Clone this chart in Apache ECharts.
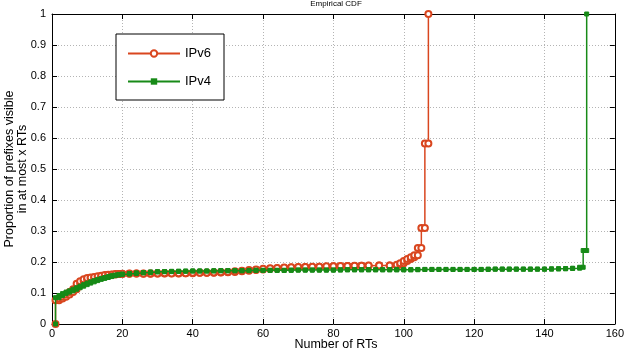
<!DOCTYPE html>
<html>
<head>
  <meta charset="UTF-8">
  <title>Empirical CDF</title>
  <script src="https://cdn.jsdelivr.net/npm/echarts@6/dist/echarts.min.js"></script>
  <style>
    html, body { margin: 0; padding: 0; background: #fff; }
    #main { width: 627px; height: 354px; }
  </style>
</head>
<body>
  <div id="main"></div>
  <script type="text/javascript">
    // number of RTs (x) and empirical CDF value
    var v6X = [1, 2, 3, 4, 5, 6, 7, 8, 9, 10, 11, 12, 13, 14, 15, 16, 17, 18, 19, 20,
      22, 24, 26, 28, 30, 32, 34, 36, 38, 40, 42, 44, 46, 48, 50, 52, 54, 56, 58, 60,
      62, 64, 66, 68, 70, 72, 74, 76, 78, 80, 82, 84, 86, 88, 90, 93, 96, 98, 99, 100,
      101, 102, 103, 104, 105, 106, 107];
    var v6F = [0.077, 0.082, 0.088, 0.095, 0.103, 0.112, 0.130, 0.138, 0.144, 0.148, 0.150, 0.152, 0.154, 0.156, 0.158, 0.159, 0.160, 0.161, 0.161, 0.162,
      0.163, 0.163, 0.162, 0.163, 0.163, 0.164, 0.163, 0.164, 0.164, 0.165, 0.165, 0.165, 0.166, 0.167, 0.168, 0.170, 0.172, 0.174, 0.176, 0.178,
      0.180, 0.181, 0.182, 0.183, 0.184, 0.184, 0.185, 0.185, 0.186, 0.186, 0.187, 0.187, 0.188, 0.188, 0.189, 0.189, 0.189, 0.191, 0.196, 0.203,
      0.210, 0.215, 0.222, 0.245, 0.310, 0.582, 1.0];

    var v4X = [1, 2, 3, 4, 5, 6, 7, 8, 9, 10, 11, 12, 13, 14, 15, 16, 17, 18, 19, 20,
      22, 24, 26, 28, 30, 32, 34, 36, 38, 40, 42, 44, 46, 48, 50, 52, 54, 56, 58, 60,
      62, 64, 66, 68, 70, 72, 74, 76, 78, 80, 82, 84, 86, 88, 90, 92, 94, 96, 98, 100,
      102, 104, 106, 108, 110, 112, 114, 116, 118, 120, 122, 124, 126, 128, 130, 132, 134, 136, 138, 140,
      142, 144, 146, 148, 150, 151, 152];
    var v4F = [0.085, 0.092, 0.098, 0.103, 0.107, 0.112, 0.117, 0.122, 0.127, 0.132, 0.136, 0.140, 0.144, 0.147, 0.150, 0.153, 0.156, 0.158, 0.160, 0.161,
      0.163, 0.165, 0.166, 0.168, 0.169, 0.169, 0.170, 0.170, 0.171, 0.171, 0.171, 0.171, 0.172, 0.172, 0.172, 0.172, 0.172, 0.173, 0.173, 0.173,
      0.173, 0.173, 0.173, 0.174, 0.174, 0.174, 0.174, 0.174, 0.174, 0.174, 0.175, 0.175, 0.175, 0.175, 0.175, 0.175, 0.175, 0.175, 0.175, 0.175,
      0.175, 0.176, 0.176, 0.176, 0.176, 0.176, 0.176, 0.176, 0.176, 0.176, 0.176, 0.177, 0.177, 0.177, 0.177, 0.177, 0.177, 0.177, 0.177, 0.177,
      0.178, 0.178, 0.179, 0.180, 0.183, 0.237, 1.0];

    var xTicks = { min: 0, max: 160, step: 20 };
    var yTicks = { min: 0, max: 1, step: 0.1 };

    // stairs: vertical jump at each x, markers on both corners (like matlab ecdf)
    function stairs(xs, fs) {
      var pts = [];
      var prev = 0;
      for (var i = 0; i < xs.length; i++) {
        pts.push([xs[i], prev]);
        pts.push([xs[i], fs[i]]);
        prev = fs[i];
      }
      return pts;
    }

    var font = 'Liberation Sans, Arial, Helvetica, sans-serif';
    var red = '#d9461f';
    var green = '#178a17';

    var gridLine = { show: true, lineStyle: { color: '#b4b4b4', type: [1, 2], width: 1 } };
    var axLine = { show: true, onZero: false, lineStyle: { color: '#000', width: 1 } };
    var tick = { show: true, inside: true, length: 5, lineStyle: { color: '#000' } };

    var myChart = echarts.init(document.getElementById('main'));
    var option = {
      animation: false,
      backgroundColor: '#fff',
      textStyle: { fontFamily: font },
      grid: { left: 52, right: 6, top: 14, bottom: 30, containLabel: false },
      legend: {
        orient: 'vertical',
        left: 116,
        top: 34,
        padding: [13, 13, 12, 11],
        itemWidth: 52,
        itemHeight: 8,
        itemGap: 15,
        backgroundColor: '#fff',
        borderColor: '#000',
        borderWidth: 1,
        textStyle: { fontFamily: font, fontSize: 13, color: '#000' },
        data: ['IPv6', 'IPv4']
      },
      xAxis: [{
        type: 'value', min: xTicks.min, max: xTicks.max, interval: xTicks.step,
        position: 'bottom',
        axisLine: axLine, axisTick: tick, splitLine: gridLine,
        axisLabel: { color: '#000', fontSize: 11, margin: 4, fontFamily: font }
      }, {
        type: 'value', min: xTicks.min, max: xTicks.max, interval: xTicks.step,
        position: 'top',
        axisLine: axLine, axisTick: tick, splitLine: { show: false },
        axisLabel: { show: false }
      }],
      yAxis: [{
        type: 'value', min: yTicks.min, max: yTicks.max, interval: yTicks.step,
        position: 'left',
        axisLine: axLine, axisTick: tick, splitLine: gridLine,
        axisLabel: { color: '#000', fontSize: 11, margin: 6, fontFamily: font }
      }, {
        type: 'value', min: yTicks.min, max: yTicks.max, interval: yTicks.step,
        position: 'right',
        axisLine: axLine, axisTick: tick, splitLine: { show: false },
        axisLabel: { show: false }
      }],
      graphic: [{
        type: 'text', x: 336, y: 4,
        style: { text: 'Empirical CDF', font: '8px ' + font, fill: '#000', textAlign: 'center', textVerticalAlign: 'middle' }
      }, {
        type: 'text', x: 336, y: 345,
        style: { text: 'Number of RTs', font: '12.5px ' + font, fill: '#000', textAlign: 'center', textVerticalAlign: 'middle' }
      }, {
        type: 'text', x: 16, y: 169, rotation: Math.PI / 2,
        style: {
          text: 'Proportion of prefixes visible\nin at most x RTs',
          font: '12.5px ' + font, lineHeight: 13, fill: '#000',
          textAlign: 'center', textVerticalAlign: 'middle'
        }
      }],
      series: [{
        name: 'IPv4',
        type: 'line',
        xAxisIndex: 0, yAxisIndex: 0,
        data: stairs(v4X, v4F),
        symbol: 'rect',
        symbolSize: 4,
        showAllSymbol: true,
        lineStyle: { color: green, width: 1.5 },
        itemStyle: { color: green, borderColor: green },
        z: 3
      }, {
        name: 'IPv6',
        type: 'line',
        xAxisIndex: 0, yAxisIndex: 0,
        data: stairs(v6X, v6F),
        symbol: 'emptyCircle',
        symbolSize: 6,
        showAllSymbol: true,
        lineStyle: { color: red, width: 1.5 },
        itemStyle: { color: red, borderColor: red, borderWidth: 1.2 },
        z: 2
      }]
    };
    myChart.setOption(option);
  </script>
</body>
</html>
